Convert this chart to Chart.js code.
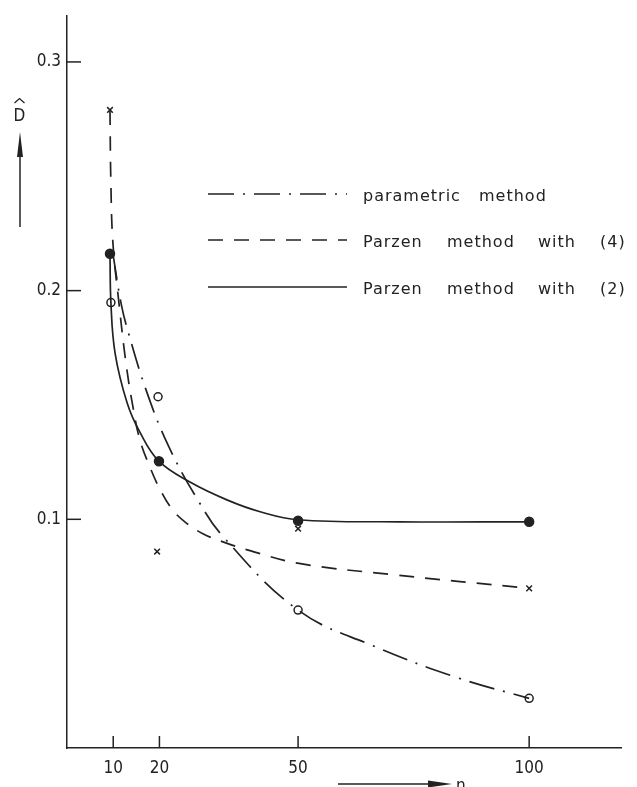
<!DOCTYPE html>
<html><head><meta charset="utf-8">
<script src="https://cdn.jsdelivr.net/npm/chart.js@4.4.0/dist/chart.umd.min.js"></script>
<style>html,body{margin:0;padding:0;background:#fff;}canvas{display:block;}</style>
</head><body>
<canvas id="c" width="637" height="787"></canvas>
<script>
// ---- axis ticks ----
const nTicks = [10, 20, 50, 100];
const nTickLabels = ['10', '20', '50', '100'];
const dTicks = [0.1, 0.2, 0.3];
const dTickLabels = ['0.1', '0.2', '0.3'];

// ---- series names ----
const seriesNames = ['parametric method', 'Parzen method with (4)', 'Parzen method with (2)'];

// ---- measured points (markers) ----
const paramN   = [9.5, 19.7, 50, 100];
const paramD   = [0.1948, 0.1536, 0.0603, 0.0217];
const parzen4N = [9.3, 19.5, 50, 100];
const parzen4D = [0.279, 0.0859, 0.0959, 0.0698];
const parzen2N = [9.3, 19.9, 50, 100];
const parzen2D = [0.2161, 0.1254, 0.0994, 0.0989];

// ---- drawn (fitted) curves ----
const paramCurveN = [9.95, 11.7, 13.2, 17.1, 21.9, 28.3, 33.8, 50, 66.2, 84.4, 100];
const paramCurveD = [0.216, 0.1944, 0.1822, 0.1566, 0.1323, 0.1085, 0.0924, 0.0603, 0.0447, 0.0308, 0.0217];
const parzen4CurveN = [9.3, 9.5, 9.95, 11.25, 12.76, 14.3, 15.8, 17.95, 20.1, 22.7, 25.5, 29.4, 34.2, 39.6, 50.2, 70.1, 100];
const parzen4CurveD = [0.279, 0.2464, 0.2204, 0.1944, 0.1683, 0.1488, 0.1345, 0.1228, 0.1132, 0.1045, 0.0989, 0.0937, 0.0898, 0.0863, 0.0807, 0.0759, 0.0698];
const parzen2CurveN = [9.3, 9.5, 10.4, 13.0, 15.8, 19.9, 26.6, 34.6, 41.8, 50, 72, 100];
const parzen2CurveD = [0.2161, 0.1948, 0.1727, 0.151, 0.138, 0.1254, 0.1163, 0.1085, 0.1033, 0.0998, 0.0989, 0.0989];

const INK = '#222';
const FAMILY = '"DejaVu Sans Condensed", "DejaVu Sans", sans-serif';
const LEGEND_FAMILY = '"DejaVu Sans", sans-serif';
const dashDot = [26, 9, 2, 9];
const dashed = [15, 11];

const pts = (xs, ys) => xs.map((x, i) => ({x, y: ys[i]}));

const curve = (label, xs, ys, dash) => ({
  type: 'line', label, data: pts(xs, ys), borderColor: INK, borderWidth: 1.7,
  borderDash: dash, pointRadius: 0, tension: 0.4, fill: false
});
const marks = (label, xs, ys, style, fillCol, r) => ({
  type: 'scatter', label, data: pts(xs, ys), showLine: false,
  pointStyle: style, pointRadius: r, pointBackgroundColor: fillCol,
  pointBorderColor: INK, pointBorderWidth: 1.5
});

const decor = {
  id: 'decor',
  afterDraw(chart) {
    const ctx = chart.ctx, xs = chart.scales.x, ys = chart.scales.y;
    ctx.save();
    ctx.strokeStyle = INK; ctx.fillStyle = INK; ctx.lineWidth = 1.5;
    // inward tick marks
    nTicks.forEach(v => { const px = xs.getPixelForValue(v);
      ctx.beginPath(); ctx.moveTo(px, ys.bottom); ctx.lineTo(px, ys.bottom - 12); ctx.stroke(); });
    dTicks.forEach(v => { const py = ys.getPixelForValue(v);
      ctx.beginPath(); ctx.moveTo(xs.left, py); ctx.lineTo(xs.left + 14, py); ctx.stroke(); });
    // legend
    const legendY = [194, 240, 287];
    const dashes = [dashDot, dashed, []];
    const words = [['parametric', 'method'], ['Parzen', 'method', 'with', '(4)'], ['Parzen', 'method', 'with', '(2)']];
    const wordX = [[363, 479], [363, 447, 538, 600], [363, 447, 538, 600]];
    ctx.font = '16px ' + LEGEND_FAMILY;
    if ('letterSpacing' in ctx) ctx.letterSpacing = '1px';
    ctx.textBaseline = 'middle'; ctx.textAlign = 'left';
    for (let i = 0; i < 3; i++) {
      ctx.setLineDash(dashes[i]); ctx.lineWidth = 1.6;
      ctx.beginPath(); ctx.moveTo(208, legendY[i]); ctx.lineTo(347, legendY[i]); ctx.stroke();
      ctx.setLineDash([]);
      words[i].forEach((w, k) => ctx.fillText(w, wordX[i][k], legendY[i] + 3));
    }
    if ('letterSpacing' in ctx) ctx.letterSpacing = '0px';
    // y-axis label D-hat with arrow
    ctx.font = '17px ' + FAMILY;
    ctx.textAlign = 'center'; ctx.textBaseline = 'alphabetic';
    ctx.fillText('D', 19.5, 120.5);
    ctx.lineWidth = 1.3;
    ctx.beginPath(); ctx.moveTo(14.5, 103); ctx.lineTo(19.5, 98.5); ctx.lineTo(24.5, 103); ctx.stroke();
    ctx.lineWidth = 1.5;
    ctx.beginPath(); ctx.moveTo(20, 227); ctx.lineTo(20, 150); ctx.stroke();
    ctx.beginPath(); ctx.moveTo(20, 132); ctx.lineTo(17, 157); ctx.lineTo(23, 157); ctx.closePath(); ctx.fill();
    // x-axis label n with arrow
    ctx.beginPath(); ctx.moveTo(338, 784); ctx.lineTo(435, 784); ctx.stroke();
    ctx.beginPath(); ctx.moveTo(452, 784); ctx.lineTo(428, 780.5); ctx.lineTo(428, 787.5); ctx.closePath(); ctx.fill();
    ctx.textAlign = 'left';
    ctx.fillText('n', 456, 791);
    ctx.restore();
  }
};

new Chart(document.getElementById('c'), {
  data: {
    datasets: [
      curve(seriesNames[0], paramCurveN, paramCurveD, dashDot),
      curve(seriesNames[1], parzen4CurveN, parzen4CurveD, dashed),
      curve(seriesNames[2], parzen2CurveN, parzen2CurveD, []),
      marks(seriesNames[0] + ' points', paramN, paramD, 'circle', '#fff', 4),
      marks(seriesNames[1] + ' points', parzen4N, parzen4D, 'crossRot', INK, 4),
      marks(seriesNames[2] + ' points', parzen2N, parzen2D, 'circle', INK, 4.5)
    ]
  },
  options: {
    responsive: false, animation: false,
    layout: { padding: { left: 0, right: 15.4, top: 10.4, bottom: 0 } },
    plugins: { legend: { display: false }, tooltip: { enabled: false } },
    scales: {
      x: {
        type: 'linear', min: 0, max: 120,
        afterBuildTicks: s => { s.ticks = nTicks.map(v => ({value: v})); },
        afterFit: s => { s.height = 39; },
        ticks: { callback: v => nTickLabels[nTicks.indexOf(v)], font: {family: FAMILY, size: 17}, color: INK, padding: 10, maxRotation: 0, autoSkip: false },
        grid: { display: false, drawTicks: false },
        border: { display: true, color: INK, width: 1.5 }
      },
      y: {
        type: 'linear', min: 0, max: 0.32,
        afterBuildTicks: s => { s.ticks = dTicks.map(v => ({value: v})); },
        afterFit: s => { s.width = 67; },
        ticks: { callback: v => dTickLabels[dTicks.indexOf(v)], font: {family: FAMILY, size: 17}, color: INK, padding: 6, autoSkip: false },
        grid: { display: false, drawTicks: false },
        border: { display: true, color: INK, width: 1.5 }
      }
    }
  },
  plugins: [decor]
});
</script>
</body></html>
